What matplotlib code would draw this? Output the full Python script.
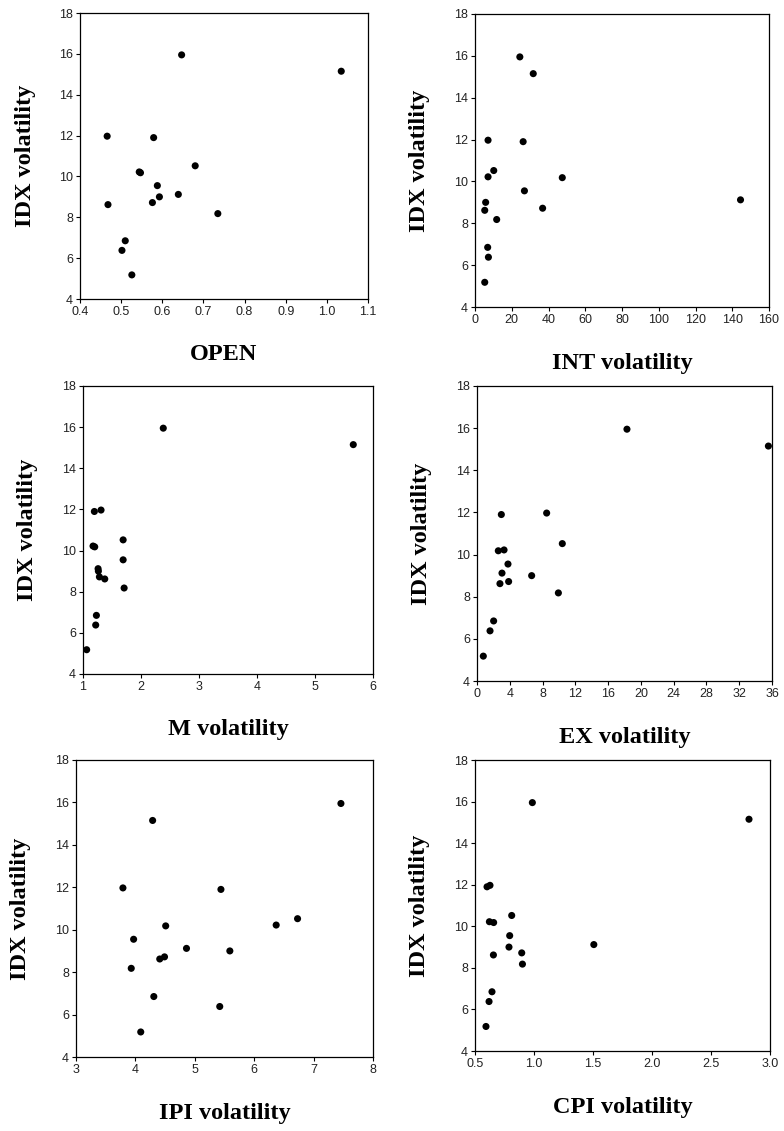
import matplotlib
matplotlib.use('Agg')
import matplotlib.pyplot as plt

# IDX volatility (common y for all panels)
idx_vol = [15.95, 15.15, 11.97, 11.90, 10.52, 10.22, 10.18, 9.55, 9.12, 9.00, 8.72, 8.62, 8.18, 6.85, 6.38, 5.18]

# x series, same order as idx_vol
open_x = [0.647, 1.035, 0.466, 0.579, 0.680, 0.544, 0.547, 0.588, 0.639, 0.593, 0.576, 0.468, 0.735, 0.510, 0.502, 0.526]
int_x = [24.4, 31.7, 7.1, 26.2, 10.2, 7.1, 47.5, 26.9, 144.5, 5.8, 36.8, 5.3, 11.8, 6.9, 7.3, 5.3]
m_x = [2.384, 5.66, 1.311, 1.196, 1.692, 1.173, 1.202, 1.692, 1.26, 1.265, 1.283, 1.375, 1.709, 1.231, 1.219, 1.063]
ex_x = [18.3, 35.56, 8.5, 2.97, 10.41, 3.3, 2.6, 3.78, 3.05, 6.67, 3.86, 2.8, 9.93, 2.03, 1.59, 0.77]
ipi_x = [7.46, 4.29, 3.79, 5.44, 6.73, 6.37, 4.51, 3.97, 4.86, 5.59, 4.49, 4.41, 3.93, 4.31, 5.42, 4.09]
cpi_x = [0.986, 2.822, 0.627, 0.602, 0.811, 0.622, 0.658, 0.794, 1.507, 0.788, 0.896, 0.656, 0.902, 0.644, 0.619, 0.593]

x_labels = ['OPEN', 'INT volatility', 'M volatility', 'EX volatility', 'IPI volatility', 'CPI volatility']
x_limits = [(0.4, 1.1), (0, 160), (1, 6), (0, 36), (3, 8), (0.5, 3.0)]
x_ticks = [
    [0.4, 0.5, 0.6, 0.7, 0.8, 0.9, 1.0, 1.1],
    [0, 20, 40, 60, 80, 100, 120, 140, 160],
    [1, 2, 3, 4, 5, 6],
    [0, 4, 8, 12, 16, 20, 24, 28, 32, 36],
    [3, 4, 5, 6, 7, 8],
    [0.5, 1.0, 1.5, 2.0, 2.5, 3.0],
]
x_ticklabels = [
    ['0.4', '0.5', '0.6', '0.7', '0.8', '0.9', '1.0', '1.1'],
    ['0', '20', '40', '60', '80', '100', '120', '140', '160'],
    ['1', '2', '3', '4', '5', '6'],
    ['0', '4', '8', '12', '16', '20', '24', '28', '32', '36'],
    ['3', '4', '5', '6', '7', '8'],
    ['0.5', '1.0', '1.5', '2.0', '2.5', '3.0'],
]
y_ticks = [4, 6, 8, 10, 12, 14, 16, 18]
series_x = [open_x, int_x, m_x, ex_x, ipi_x, cpi_x]

W, H = 784, 1131
# axes boxes in pixels: left, top, right, bottom
boxes = [
    (80, 13, 368, 299),
    (475, 14, 769, 307),
    (83, 386, 373, 674),
    (477, 386, 772, 681),
    (76, 760, 373, 1057),
    (475, 760, 770, 1051),
]

fig = plt.figure(figsize=(W / 100, H / 100), dpi=100)

for i, (l, t, r, b) in enumerate(boxes):
    ax = fig.add_axes([l / W, 1 - b / H, (r - l) / W, (b - t) / H])
    ax.scatter(series_x[i], idx_vol, s=26, color='black', edgecolors='none', zorder=3)
    ax.set_xlim(*x_limits[i])
    ax.set_ylim(4, 18)
    ax.set_xticks(x_ticks[i])
    ax.set_xticklabels(x_ticklabels[i], fontfamily='Liberation Sans', fontsize=9, color='#222222')
    ax.set_yticks(y_ticks)
    ax.set_yticklabels([str(v) for v in y_ticks], fontfamily='Liberation Sans', fontsize=9, color='#222222')
    ax.tick_params(direction='out', length=3, width=0.8, pad=2, color='black')
    for sp in ax.spines.values():
        sp.set_linewidth(0.9)
    ax.set_xlabel(x_labels[i], fontfamily='Liberation Serif', fontweight='bold', fontsize=17.5, va='center')
    ax.set_ylabel('IDX volatility', fontfamily='Liberation Serif', fontweight='bold', fontsize=17.5, va='center')
    ax.xaxis.set_label_coords(0.5, -56 / (b - t))
    ax.yaxis.set_label_coords(-55 / (r - l), 0.5)

fig.savefig('out.png', dpi=100)
